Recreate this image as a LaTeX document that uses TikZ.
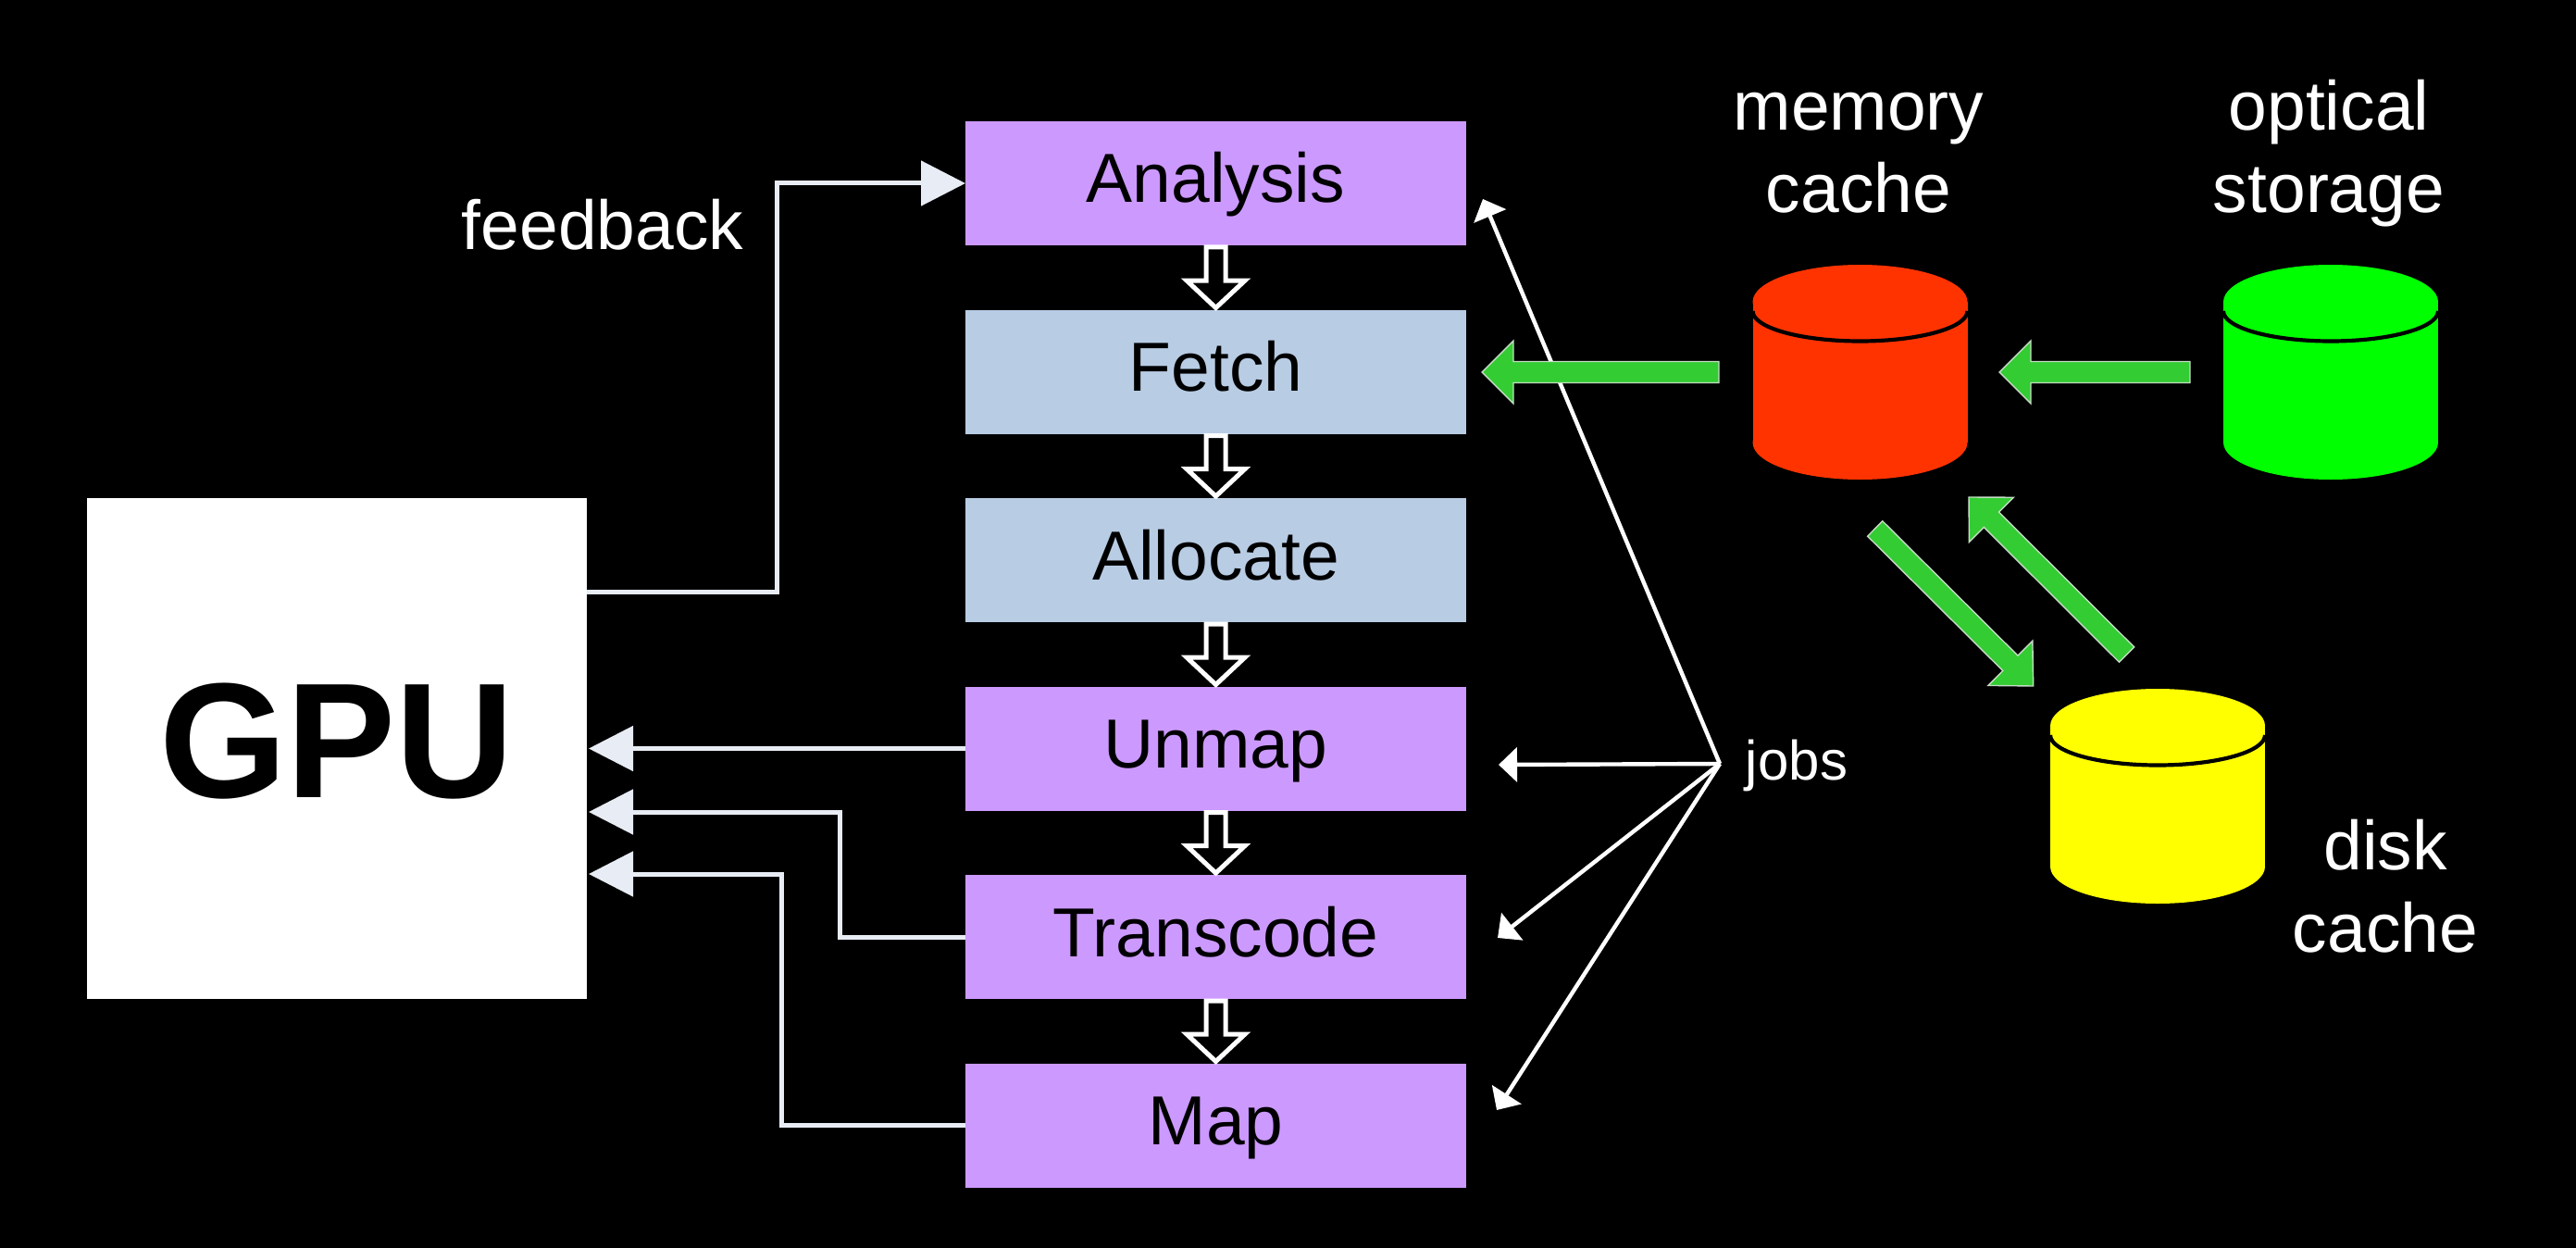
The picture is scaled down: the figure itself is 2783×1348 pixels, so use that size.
\documentclass[tikz,border=0pt]{standalone}
\usepackage{fontspec}
\setmainfont{Liberation Sans}
\usetikzlibrary{arrows.meta,calc}
\definecolor{stagepurple}{HTML}{CC99FF}
\definecolor{stageblue}{HTML}{B8CCE4}
\definecolor{feedline}{HTML}{E8ECF4}
\definecolor{blockgreen}{HTML}{33CC33}
\definecolor{blockedge}{HTML}{C4DCC4}
\definecolor{memred}{HTML}{FF3300}
\definecolor{optgreen}{HTML}{00FF00}
\definecolor{diskyellow}{HTML}{FFFF00}
\tikzset{
  stage/.style={rectangle,minimum width=270.5pt,minimum height=67pt,inner sep=0pt,outer sep=0pt,
    text=black,text height=21pt,text depth=0pt,font=\fontsize{37.5}{44.5}\selectfont},
  purplestage/.style={stage,fill=stagepurple},
  bluestage/.style={stage,fill=stageblue},
  gpubox/.style={rectangle,fill=white,minimum width=270pt,minimum height=270.5pt,inner sep=0pt,outer sep=0pt,
    text=black,text height=52.5pt,text depth=0pt,font=\fontsize{88.5}{100}\selectfont\bfseries},
  whitelabel/.style={text=white,inner sep=0pt,outer sep=0pt,anchor=base,align=center,font=\fontsize{37.5}{44.5}\selectfont},
  smalllabel/.style={text=white,inner sep=0pt,outer sep=0pt,anchor=base,font=\fontsize{30}{36}\selectfont},
  hollowarrow/.style={draw=white,fill=black,line width=2.5pt,miter limit=10},
  feedarrow/.style={draw=feedline,line width=2.5pt,-{Triangle[length=24pt,width=24pt,fill=feedline]}},
  jobarrow/.style={draw=white,line width=2.2pt,-{Triangle[length=10pt,width=18.5pt,fill=white]}},
  greenarrow/.style={draw=blockedge,fill=blockgreen,line width=.7pt},
}
\newcommand{\flowarrow}[2]{%
  \draw[hollowarrow] ($(#1.south)+(-10.5,2)$) -- ($(#1.south)+(-10.5,38)$) -- ($(#1.south)+(-31.5,38)$)
    -- ($(#2.north)+(0,-2)$) -- ($(#1.south)+(31.5,38)$) -- ($(#1.south)+(10.5,38)$) -- ($(#1.south)+(10.5,2)$) -- cycle;}
\newcommand{\blockarrow}[2]{%
  \draw[greenarrow] let \p1=($(#2)-(#1)$), \n1={atan2(\y1,\x1)}, \n2={veclen(\x1,\y1)-17pt} in
    ($(#1)+(\n1+90:5.75pt)$) -- ($(#1)+(\n1:\n2)+(\n1+90:5.75pt)$) -- ($(#1)+(\n1:\n2)+(\n1+90:17pt)$)
    -- (#2) -- ($(#1)+(\n1:\n2)+(\n1-90:17pt)$) -- ($(#1)+(\n1:\n2)+(\n1-90:5.75pt)$) -- ($(#1)+(\n1-90:5.75pt)$) -- cycle;}
\newcommand{\drum}[3]{%
  \begin{scope}[shift={(#1,#2)}]
    \fill[#3] (-116,0) rectangle (116,152);
    \fill[#3] (0,0) ellipse [x radius=116,y radius=40];
    \fill[#3] (0,152) ellipse [x radius=116,y radius=40];
    \draw[black,line width=2.1pt] (-116,10) arc [start angle=180,end angle=0,x radius=116,y radius=32.5];
  \end{scope}}
\begin{document}
\begin{tikzpicture}[x=.5pt,y=-.5pt]
\fill[black] (0,0) rectangle (2783,1348);
\useasboundingbox (0,0) rectangle (2783,1348);

\node[gpubox] (gpu) at (364,808.5) {GPU};
\node[purplestage] (analysis) at (1313.5,198) {Analysis};
\node[bluestage] (fetch) at (1313.5,401.5) {Fetch};
\node[bluestage] (allocate) at (1313.5,605) {Allocate};
\node[purplestage] (unmap) at (1313.5,808.5) {Unmap};
\node[purplestage] (transcode) at (1313.5,1012) {Transcode};
\node[purplestage] (map) at (1313.5,1215.5) {Map};

\flowarrow{analysis}{fetch}
\flowarrow{fetch}{allocate}
\flowarrow{allocate}{unmap}
\flowarrow{unmap}{transcode}
\flowarrow{transcode}{map}

\node[whitelabel] (feedback) at (651,270) {feedback};
\coordinate (fbstart) at (634,639);
\coordinate (fbcorner) at (839,198);
\draw[feedarrow] (fbstart) -| (fbcorner) -- (analysis.west);

\coordinate (gpuU) at (636,808.5);
\coordinate (gpuT) at (636,877);
\coordinate (gpuM) at (636,944);
\coordinate (cornerT) at (907,877);
\coordinate (cornerM) at (844,944);
\draw[feedarrow] (unmap.west) -- (gpuU);
\draw[feedarrow] (transcode.west) -| (cornerT) -- (gpuT);
\draw[feedarrow] (map.west) -| (cornerM) -- (gpuM);

\coordinate (jobsv) at (1858,825);
\node[smalllabel] (jobs) at (1941,842) {jobs};
\coordinate (jobA) at (1602,215);
\coordinate (jobU) at (1619,826);
\coordinate (jobT) at (1618,1013);
\coordinate (jobM) at (1617,1199);
\draw[jobarrow] (jobsv) -- (jobA);
\draw[jobarrow] (jobsv) -- (jobU);
\draw[jobarrow] (jobsv) -- (jobT);
\draw[jobarrow] (jobsv) -- (jobM);

\drum{2009.5}{326}{memred}
\drum{2518}{326}{optgreen}
\drum{2331}{784}{diskyellow}

\node[whitelabel] (memlabel) at (2008,230) {memory\\cache};
\node[whitelabel] (optlabel) at (2516,230) {optical\\storage};
\node[whitelabel] (disklabel) at (2577,1028) {disk\\cache};

\coordinate (memout) at (1857,402);
\coordinate (fetchin) at (1601,402);
\coordinate (optout) at (2366,402);
\coordinate (memin) at (2160,402);
\coordinate (memdown) at (2025.7,571);
\coordinate (diskin) at (2196.7,741);
\coordinate (diskout) at (2297.5,707);
\coordinate (memup) at (2127,537);
\blockarrow{memout}{fetchin}
\blockarrow{optout}{memin}
\blockarrow{memdown}{diskin}
\blockarrow{diskout}{memup}
\end{tikzpicture}
\end{document}
